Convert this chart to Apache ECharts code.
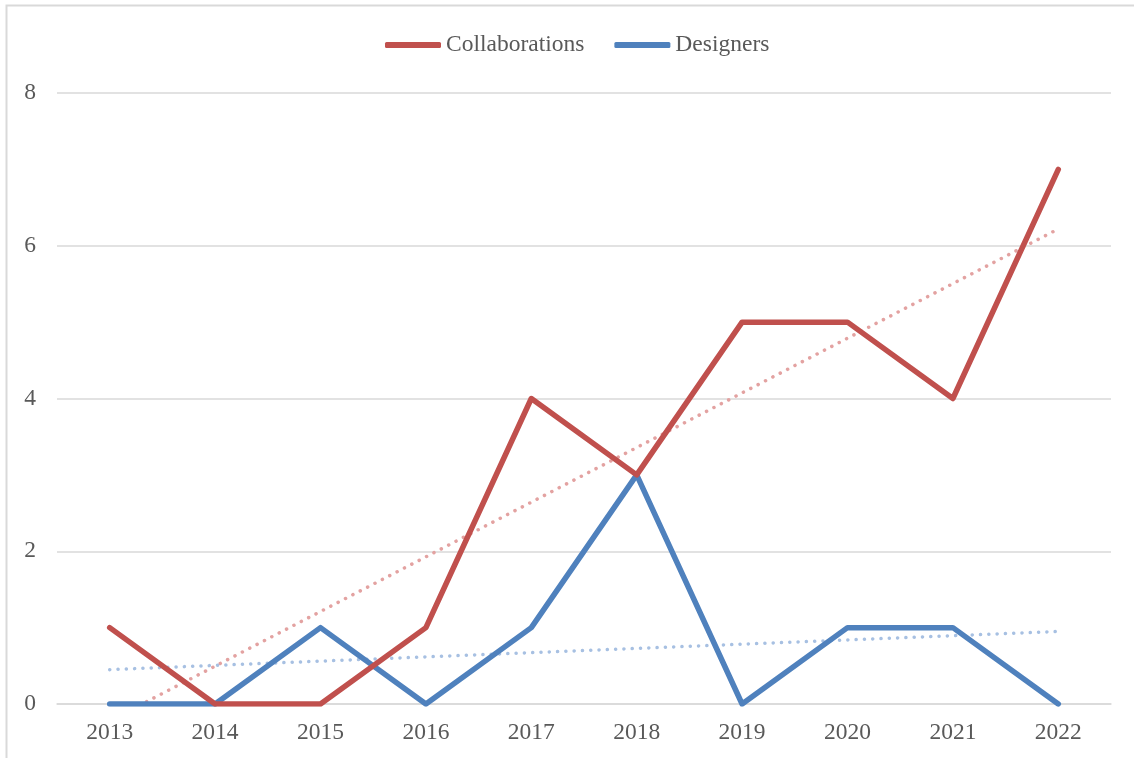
<!DOCTYPE html>
<html>
<head>
<meta charset="utf-8">
<script src="https://cdn.jsdelivr.net/npm/echarts@6/dist/echarts.min.js"></script>
<style>
  html, body { margin: 0; padding: 0; background: #ffffff; }
  #chart { width: 1134px; height: 758px; }
</style>
</head>
<body>
<div id="chart"></div>
<script>
// Yearly counts
const years = ['2013', '2014', '2015', '2016', '2017', '2018', '2019', '2020', '2021', '2022'];
const collaborations = [1, 0, 0, 1, 4, 3, 5, 5, 4, 7];
const designers = [0, 0, 1, 0, 1, 3, 0, 1, 1, 0];

// Linear trend lines: value at first and last year
const collabTrend = [-0.22, 6.22];
const designersTrend = [0.45, 0.95];

const yTicks = { min: 0, max: 8, interval: 2 };

const RED = '#C0504D';
const BLUE = '#4F81BD';
const FONT = '"Liberation Serif", "Times New Roman", serif';
const FONT_SIZE = 23.5;

const chart = echarts.init(document.getElementById('chart'), null, { renderer: 'canvas' });

function trendData(ends) {
  return [[years[0], ends[0]], [years[years.length - 1], ends[1]]];
}

chart.setOption({
  backgroundColor: '#ffffff',
  animation: false,
  graphic: [{
    type: 'rect',
    shape: { x: 6.5, y: 5.5, width: 1200, height: 800 },
    style: { fill: 'none', stroke: '#d9d9d9', lineWidth: 2 },
    silent: true
  }],
  legend: {
    data: ['Collaborations', 'Designers'],
    top: 28,
    left: 380,
    icon: 'roundRect',
    itemWidth: 56,
    itemHeight: 6,
    itemGap: 30,
    textStyle: { fontFamily: FONT, fontSize: FONT_SIZE, color: '#595959' }
  },
  grid: { left: 57, right: 23, top: 93, bottom: 54, containLabel: false },
  xAxis: {
    type: 'category',
    data: years,
    boundaryGap: true,
    axisLine: { show: true, lineStyle: { color: '#d9d9d9', width: 1.5 } },
    axisTick: { show: false },
    axisLabel: { fontFamily: FONT, fontSize: FONT_SIZE, color: '#595959', margin: 17 }
  },
  yAxis: {
    type: 'value',
    min: yTicks.min,
    max: yTicks.max,
    interval: yTicks.interval,
    axisLine: { show: false },
    axisTick: { show: false },
    splitLine: { lineStyle: { color: '#d9d9d9', width: 1.5 } },
    axisLabel: { fontFamily: FONT, fontSize: FONT_SIZE, color: '#595959', margin: 21 }
  },
  series: [
    {
      name: 'Collaborations trend',
      type: 'line',
      data: trendData(collabTrend),
      symbol: 'none',
      clip: true,
      silent: true,
      lineStyle: { color: '#E3A2A1', width: 3.5, type: [0.1, 8.2], cap: 'round' },
      z: 1
    },
    {
      name: 'Designers trend',
      type: 'line',
      data: trendData(designersTrend),
      symbol: 'none',
      clip: true,
      silent: true,
      lineStyle: { color: '#A7C0E2', width: 3.5, type: [0.1, 8.2], cap: 'round' },
      z: 1
    },
    {
      name: 'Collaborations',
      type: 'line',
      data: collaborations,
      symbol: 'none',
      itemStyle: { color: RED },
      lineStyle: { color: RED, width: 5.5, cap: 'round', join: 'round' },
      z: 3
    },
    {
      name: 'Designers',
      type: 'line',
      data: designers,
      symbol: 'none',
      itemStyle: { color: BLUE },
      lineStyle: { color: BLUE, width: 5.5, cap: 'round', join: 'round' },
      z: 2
    }
  ]
});
</script>
</body>
</html>
